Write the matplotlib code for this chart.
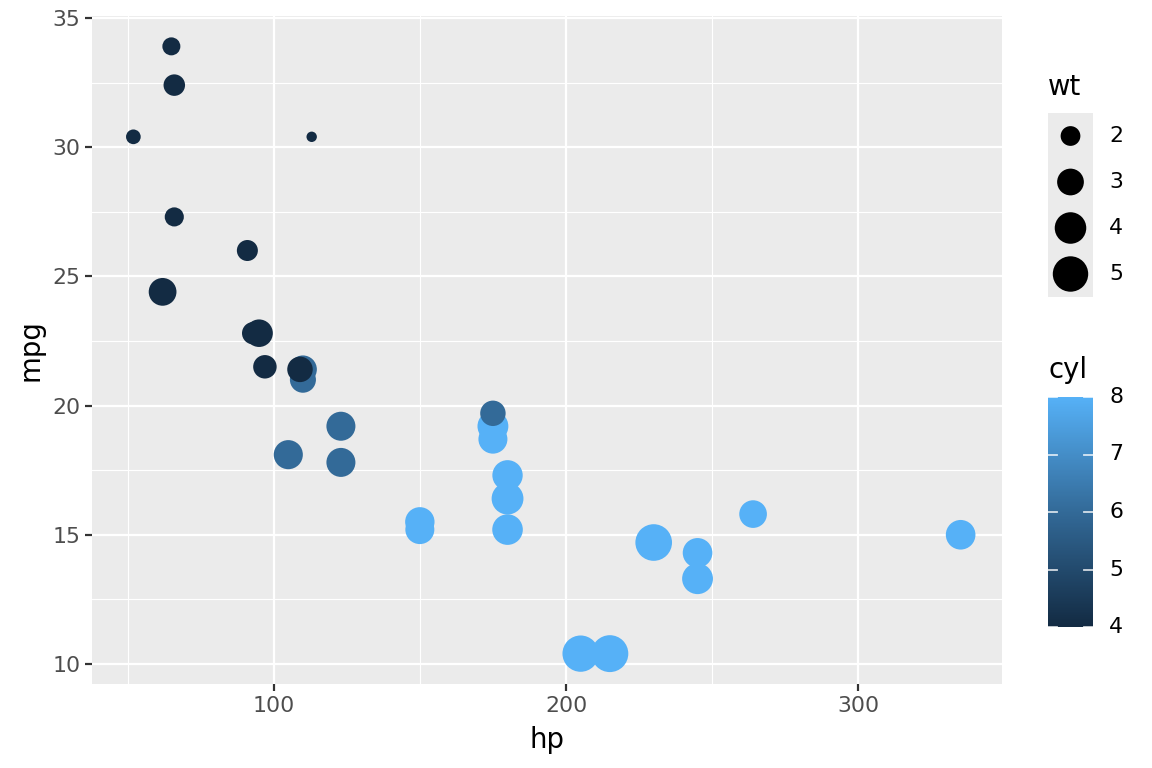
import matplotlib
matplotlib.use("Agg")
import matplotlib.pyplot as plt
import numpy as np
from matplotlib.colors import LinearSegmentedColormap, Normalize

# mtcars: hp vs mpg, size = wt, colour = cyl
hp = [110, 110, 93, 110, 175, 105, 245, 62, 95, 123, 123, 180, 180, 180, 205, 215,
      230, 66, 52, 65, 97, 150, 150, 245, 175, 66, 91, 113, 264, 175, 335, 109]
mpg = [21.0, 21.0, 22.8, 21.4, 18.7, 18.1, 14.3, 24.4, 22.8, 19.2, 17.8, 16.4, 17.3,
       15.2, 10.4, 10.4, 14.7, 32.4, 30.4, 33.9, 21.5, 15.5, 15.2, 13.3, 19.2, 27.3,
       26.0, 30.4, 15.8, 19.7, 15.0, 21.4]
cyl = [6, 6, 4, 6, 8, 6, 8, 4, 4, 6, 6, 8, 8, 8, 8, 8, 8, 4, 4, 4, 4, 8, 8, 8, 8, 4,
       4, 4, 8, 6, 8, 4]
wt = [2.620, 2.875, 2.320, 3.215, 3.440, 3.460, 3.570, 3.190, 3.150, 3.440, 3.440,
      4.070, 3.730, 3.780, 5.250, 5.424, 5.345, 2.200, 1.615, 1.835, 2.465, 3.520,
      3.435, 3.840, 3.845, 1.935, 2.140, 1.513, 3.170, 2.770, 3.570, 2.780]

wt_breaks = [2, 3, 4, 5]
cyl_breaks = [4, 5, 6, 7, 8]

W, H = 1152, 768
cmap = LinearSegmentedColormap.from_list("gg", ["#132B43", "#336A98", "#56B1F7"])
norm = Normalize(4, 8)
TICK_FS = 11
TITLE_FS = 13.75


def point_size(w):
    lo, hi = min(wt), max(wt)
    size = 1 + 5 * np.sqrt((np.asarray(w, dtype=float) - lo) / (hi - lo))
    return (2.65 * size + 2.55) ** 2


def box(x0, y0, x1, y1):
    # pixel box -> figure fraction
    return [x0 / W, 1 - y1 / H, (x1 - x0) / W, (y1 - y0) / H]


fig = plt.figure(figsize=(W / 144, H / 144), dpi=144)
ax = fig.add_axes(box(92, 16, 1002, 684))
ax.set_facecolor("#EBEBEB")
ax.scatter(hp, mpg, s=point_size(wt), c=cyl, cmap=cmap, norm=norm, linewidths=0, zorder=3)

xr = max(hp) - min(hp)
yr = max(mpg) - min(mpg)
ax.set_xlim(min(hp) - 0.05 * xr, max(hp) + 0.05 * xr)
ax.set_ylim(min(mpg) - 0.05 * yr, max(mpg) + 0.05 * yr)
ax.set_xticks([100, 200, 300])
ax.set_yticks([10, 15, 20, 25, 30, 35])
ax.set_xticks([50, 150, 250], minor=True)
ax.set_yticks([12.5, 17.5, 22.5, 27.5, 32.5], minor=True)
ax.grid(which="major", color="white", linewidth=1.1)
ax.grid(which="minor", color="white", linewidth=0.55)
ax.set_axisbelow(True)
for sp in ax.spines.values():
    sp.set_visible(False)
ax.tick_params(which="major", length=3.4, width=1.1, color="#333333",
               labelcolor="#4D4D4D", labelsize=TICK_FS, pad=2.5)
ax.tick_params(which="minor", length=0)
ax.set_xlabel("hp", fontsize=TITLE_FS, color="black", labelpad=5)
ax.set_ylabel("mpg", fontsize=TITLE_FS, color="black", labelpad=4)

# size legend
fig.text(1048 / W, 1 - 87 / H, "wt", fontsize=TITLE_FS, va="center", ha="left")
lax = fig.add_axes(box(1048, 113, 1093, 297))
lax.set_facecolor("#EBEBEB")
lax.set_xlim(0, 1)
lax.set_ylim(len(wt_breaks), 0)
key_y = np.arange(len(wt_breaks)) + 0.5
lax.scatter([0.5] * len(wt_breaks), key_y, s=point_size(wt_breaks), color="black", linewidths=0)
lax.set_xticks([])
lax.set_yticks([])
for sp in lax.spines.values():
    sp.set_visible(False)
for yv, b in zip(key_y, wt_breaks):
    lax.text(1.36, yv, str(b), fontsize=TICK_FS, va="center", ha="left",
             transform=lax.transData, clip_on=False)

# colour bar
fig.text(1048 / W, 1 - 370 / H, "cyl", fontsize=TITLE_FS, va="center", ha="left")
cax = fig.add_axes(box(1048, 397, 1093, 627))
grad = np.linspace(4, 8, 300).reshape(-1, 1)
cax.imshow(grad, cmap=cmap, norm=norm, aspect="auto", origin="lower", extent=[0, 1, 4, 8])
cax.set_xlim(0, 1)
cax.set_ylim(4, 8)
for b in cyl_breaks:
    cax.plot([0, 0.2], [b, b], color="white", linewidth=0.9, alpha=0.8)
    cax.plot([0.8, 1], [b, b], color="white", linewidth=0.9, alpha=0.8)
    cax.text(1.36, b, str(b), fontsize=TICK_FS, va="center", ha="left", clip_on=False)
cax.set_xticks([])
cax.set_yticks([])
for sp in cax.spines.values():
    sp.set_visible(False)

fig.savefig("out.png", dpi=144)
